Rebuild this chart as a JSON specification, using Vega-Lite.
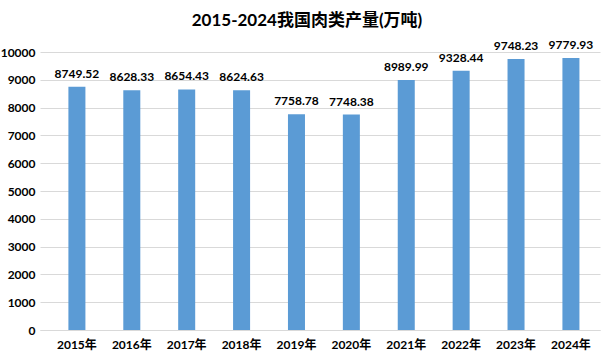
{
  "$schema": "https://vega.github.io/schema/vega-lite/v6.json",
  "width": 560,
  "height": 278,
  "autosize": {"type": "none"},
  "padding": {"left": 40, "top": 52, "right": 14, "bottom": 33},
  "background": "white",
  "title": {
    "text": "2015-2024我国肉类产量(万吨)",
    "font": "Lato, Noto Sans CJK SC",
    "fontSize": 17,
    "fontWeight": "bold",
    "color": "#000000",
    "anchor": "middle",
    "dx": -13,
    "offset": 9
  },
  "data": {
    "values": [
      {"year": "2015年", "value": 8749.52},
      {"year": "2016年", "value": 8628.33},
      {"year": "2017年", "value": 8654.43},
      {"year": "2018年", "value": 8624.63},
      {"year": "2019年", "value": 7758.78},
      {"year": "2020年", "value": 7748.38},
      {"year": "2021年", "value": 8989.99},
      {"year": "2022年", "value": 9328.44},
      {"year": "2023年", "value": 9748.23},
      {"year": "2024年", "value": 9779.93}
    ]
  },
  "encoding": {
    "x": {
      "field": "year",
      "type": "nominal",
      "sort": null,
      "scale": {"paddingInner": 0.69, "paddingOuter": 0.446, "align": 0.58},
      "axis": {
        "title": null,
        "labelAngle": 0,
        "ticks": false,
        "domainColor": "#d9d9d9",
        "labelFont": "Lato, Noto Sans CJK SC",
        "labelFontSize": 12,
        "labelFontWeight": "bold",
        "labelColor": "#000000",
        "labelPadding": 9
      }
    },
    "y": {
      "field": "value",
      "type": "quantitative",
      "scale": {"domain": [0, 10000], "nice": false},
      "axis": {
        "title": null,
        "values": [0, 1000, 2000, 3000, 4000, 5000, 6000, 7000, 8000, 9000, 10000],
        "format": "d",
        "domain": false,
        "ticks": false,
        "gridColor": "#d9d9d9",
        "labelFont": "Lato",
        "labelFontSize": 12,
        "labelFontWeight": "bold",
        "labelColor": "#000000",
        "labelPadding": 5
      }
    }
  },
  "layer": [
    {"mark": {"type": "bar", "color": "#5B9BD5"}},
    {
      "mark": {
        "type": "text",
        "baseline": "bottom",
        "dy": -6,
        "font": "Lato",
        "fontSize": 12,
        "fontWeight": "bold",
        "color": "#000000"
      },
      "encoding": {"text": {"field": "value", "type": "quantitative", "format": ".2f"}}
    }
  ],
  "config": {"view": {"stroke": null}}
}
